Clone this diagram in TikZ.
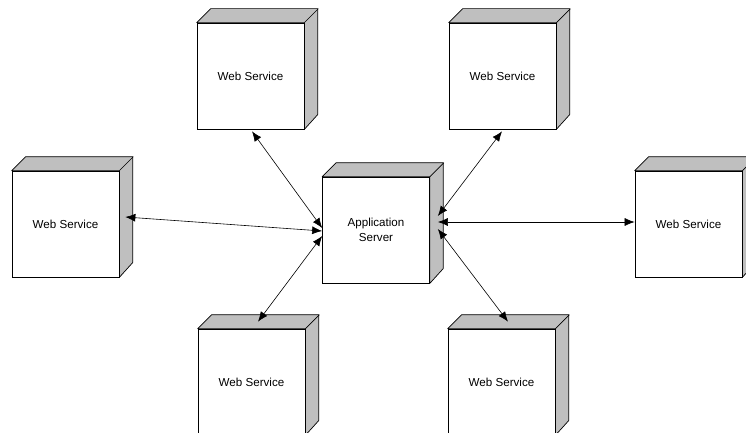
\documentclass[tikz,border=0pt]{standalone}
\usepackage{fontspec}
\setmainfont{Liberation Sans}
\usetikzlibrary{arrows.meta,calc}
\tikzset{
  face/.style={draw=black, fill=white, line width=0.7pt, minimum width=107pt, minimum height=106pt, inner sep=0pt, align=center, font=\fontsize{11.6}{15}\selectfont},
  shade3d/.style={draw=black, fill=black!25, line width=0.7pt, line join=round},
  link/.style={line width=0.6pt, {Latex[length=10pt,width=8pt]}-{Latex[length=10pt,width=8pt]}},
}
\newcommand{\deepbox}[4]{%
  \node[face] (#1) at (#2,#3) {#4};
  \filldraw[shade3d] (#1.north west) -- ++(14,-14) -- ++(107,0) -- ++(0,106) -- (#1.south east) -- (#1.north east) -- cycle;
  \draw[line width=0.7pt] (#1.north east) -- ++(14,-14);
  \node[face] at (#2,#3) {#4};
}
\begin{document}
\begin{tikzpicture}[x=1pt,y=-1pt]
\useasboundingbox (0,0) rectangle (746,433);
\clip (0,0) rectangle (746,433);
\deepbox{tl}{250.5}{76}{Web Service}
\deepbox{tr}{502.5}{76}{Web Service}
\deepbox{lw}{65.5}{224}{Web Service}
\deepbox{app}{376}{230}{Application\\Server}
\deepbox{rw}{688.5}{224}{Web Service}
\deepbox{bl}{251.5}{382}{Web Service}
\deepbox{br}{501.5}{382}{Web Service}
% connector end points
\coordinate (tlE) at ($(tl.south)+(1.5,2)$);
\coordinate (trE) at ($(tr.south)+(-0.5,2)$);
\coordinate (lwE) at ($(lw.east)+(6,-7)$);
\coordinate (rwE) at ($(rw.west)+(0,-2)$);
\coordinate (blE) at ($(bl.north)+(6.5,-7)$);
\coordinate (brE) at ($(br.north)+(6.5,-7)$);
\coordinate (appL1) at ($(app.west)+(0,-2)$);
\coordinate (appL2) at ($(app.west)+(0,1)$);
\coordinate (appL3) at ($(app.west)+(0,6)$);
\coordinate (appR1) at ($(app.east)+(8,-14)$);
\coordinate (appR2) at ($(app.east)+(8,-8)$);
\coordinate (appR3) at ($(app.east)+(8,-1)$);
\draw[link] (tlE) -- (appL1);
\draw[link] (lwE) -- (appL2);
\draw[link] (blE) -- (appL3);
\draw[link] (trE) -- (appR1);
\draw[link] (rwE) -- (appR2);
\draw[link] (brE) -- (appR3);
\end{tikzpicture}
\end{document}
